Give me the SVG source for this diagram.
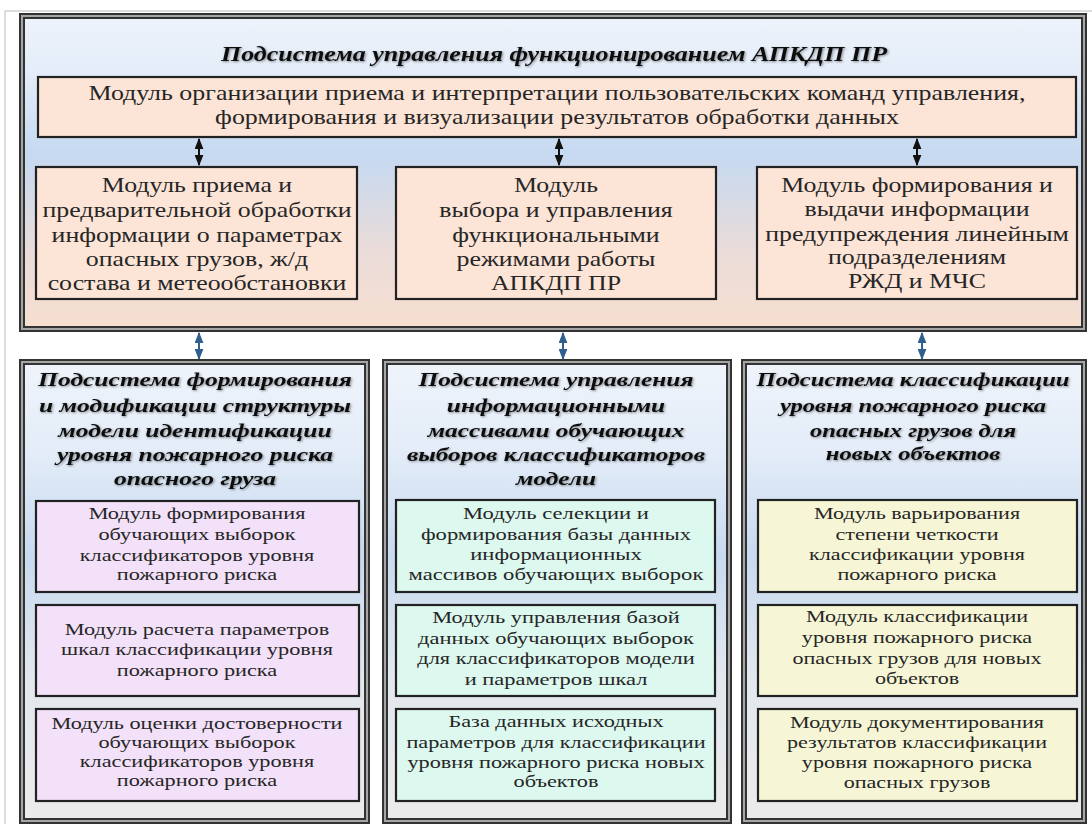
<svg xmlns="http://www.w3.org/2000/svg" width="1092" height="824" viewBox="0 0 1092 824" font-family="Liberation Serif">
  <defs>
    <linearGradient id="gTop" x1="0" y1="0" x2="0" y2="1">
      <stop offset="0" stop-color="#eef3fb"/>
      <stop offset="0.18" stop-color="#e4edf9"/>
      <stop offset="0.44" stop-color="#c5d9f1"/>
      <stop offset="0.75" stop-color="#eadcd9"/>
      <stop offset="1" stop-color="#f7dfd0"/>
    </linearGradient>
    <linearGradient id="gSub" x1="0" y1="0" x2="0" y2="1">
      <stop offset="0" stop-color="#eff4fb"/>
      <stop offset="0.2" stop-color="#e3ecf8"/>
      <stop offset="0.42" stop-color="#c8daf0"/>
      <stop offset="0.7" stop-color="#e3e8ee"/>
      <stop offset="1" stop-color="#ebebeb"/>
    </linearGradient>
    <filter id="soft" x="-5%" y="-20%" width="110%" height="140%">
      <feGaussianBlur in="SourceAlpha" stdDeviation="1.2"/>
      <feOffset dx="1" dy="1" result="sh"/>
      <feComponentTransfer><feFuncA type="linear" slope="0.45"/></feComponentTransfer>
      <feMerge><feMergeNode/><feMergeNode in="SourceGraphic"/></feMerge>
    </filter>
    <marker id="hBlack" viewBox="0 0 10 8" refX="9" refY="4" markerWidth="11" markerHeight="9" markerUnits="userSpaceOnUse" orient="auto-start-reverse">
      <path d="M0,0 L10,4 L0,8 z" fill="#111"/>
    </marker>
    <marker id="hBlue" viewBox="0 0 10 8" refX="9" refY="4" markerWidth="11" markerHeight="9" markerUnits="userSpaceOnUse" orient="auto-start-reverse">
      <path d="M0,0 L10,4 L0,8 z" fill="#2f5f8f"/>
    </marker>
  </defs>
  <style>
    .frame { fill: none; stroke: #d2d2d2; stroke-width: 1.5; }
    .panelOuter { stroke: #333; stroke-width: 6; }
    .panelInner { fill: none; stroke: #a6a6a6; stroke-width: 2; }
    .box { stroke: #222; stroke-width: 2.2; }
    .peach { fill: #fce4d6; }
    .lav { fill: #f3e1f9; }
    .mint { fill: #dcf8ef; }
    .yel { fill: #f6f6d6; }
    text { fill: #262626; text-anchor: middle; }
    .t21 { font-size: 21px; }
    .t17 { font-size: 17px; }
    .ttl { font-size: 20px; font-weight: bold; font-style: italic; fill: #111; }
    .ttl2 { font-size: 18.5px; font-weight: bold; font-style: italic; fill: #111; }
    .aBlack { stroke: #111; stroke-width: 2; marker-start: url(#hBlack); marker-end: url(#hBlack); }
    .aBlue { stroke: #2f5f8f; stroke-width: 2; marker-start: url(#hBlue); marker-end: url(#hBlue); }
  </style>

  <!-- page frame lines -->
  <path class="frame" d="M5,824 L5,11 L1092,11"/>

  <!-- top subsystem panel -->
  <g id="panel-control">
    <rect class="panelOuter" x="22" y="16" width="1062" height="313" fill="url(#gTop)"/>
    <rect class="panelInner" x="22" y="16" width="1062" height="313"/>
    <g transform="translate(554 0) scale(1.3 1)" filter="url(#soft)">
      <text class="ttl" x="0" y="61">Подсистема управления функционированием  АПКДП ПР</text>
    </g>
  </g>

  <g id="mod-ui">
    <rect class="box peach" x="38" y="77" width="1038" height="60"/>
    <g transform="translate(557 0) scale(1.235 1)">
      <text class="t21" x="0" y="100">Модуль организации приема и интерпретации пользовательских команд управления,</text>
      <text class="t21" x="0" y="124">формирования и визуализации результатов обработки данных</text>
    </g>
  </g>

  <g id="mod-input">
    <rect class="box peach" x="36" y="167" width="321" height="132"/>
    <g transform="translate(197 0) scale(1.23 1)">
      <text class="t21" x="0" y="192">Модуль приема и</text>
      <text class="t21" x="0" y="217">предварительной обработки</text>
      <text class="t21" x="0" y="242">информации о параметрах</text>
      <text class="t21" x="0" y="266">опасных грузов, ж/д</text>
      <text class="t21" x="0" y="290">состава и метеообстановки</text>
    </g>
  </g>

  <g id="mod-modes">
    <rect class="box peach" x="396" y="167" width="320" height="132"/>
    <g transform="translate(556 0) scale(1.23 1)">
      <text class="t21" x="0" y="192">Модуль</text>
      <text class="t21" x="0" y="217">выбора и управления</text>
      <text class="t21" x="0" y="242">функциональными</text>
      <text class="t21" x="0" y="266">режимами работы</text>
      <text class="t21" x="0" y="290">АПКДП ПР</text>
    </g>
  </g>

  <g id="mod-warning">
    <rect class="box peach" x="757" y="167" width="320" height="132"/>
    <g transform="translate(917 0) scale(1.23 1)">
      <text class="t21" x="0" y="192">Модуль формирования и</text>
      <text class="t21" x="0" y="216">выдачи информации</text>
      <text class="t21" x="0" y="241">предупреждения линейным</text>
      <text class="t21" x="0" y="264">подразделениям</text>
      <text class="t21" x="0" y="288">РЖД и МЧС</text>
    </g>
  </g>

  <!-- lower subsystem panels -->
  <g id="panel-structure">
    <rect class="panelOuter" x="22" y="362" width="345" height="459" fill="url(#gSub)"/>
    <rect class="panelInner" x="22" y="362" width="345" height="459"/>
    <g transform="translate(195 0) scale(1.38 1)" filter="url(#soft)">
      <text class="ttl2" x="0" y="386">Подсистема формирования</text>
      <text class="ttl2" x="0" y="412">и модификации структуры</text>
      <text class="ttl2" x="0" y="437">модели идентификации</text>
      <text class="ttl2" x="0" y="461">уровня пожарного риска</text>
      <text class="ttl2" x="0" y="485">опасного груза</text>
    </g>
  </g>

  <g id="panel-arrays">
    <rect class="panelOuter" x="385" y="362" width="344" height="459" fill="url(#gSub)"/>
    <rect class="panelInner" x="385" y="362" width="344" height="459"/>
    <g transform="translate(556 0) scale(1.37 1)" filter="url(#soft)">
      <text class="ttl2" x="0" y="386">Подсистема управления</text>
      <text class="ttl2" x="0" y="412">информационными</text>
      <text class="ttl2" x="0" y="437">массивами обучающих</text>
      <text class="ttl2" x="0" y="461">выборов классификаторов</text>
      <text class="ttl2" x="0" y="485">модели</text>
    </g>
  </g>

  <g id="panel-classify">
    <rect class="panelOuter" x="744" y="362" width="340" height="459" fill="url(#gSub)"/>
    <rect class="panelInner" x="744" y="362" width="340" height="459"/>
    <g transform="translate(913 0) scale(1.33 1)" filter="url(#soft)">
      <text class="ttl2" x="0" y="386">Подсистема классификации</text>
      <text class="ttl2" x="0" y="412">уровня пожарного риска</text>
      <text class="ttl2" x="0" y="437">опасных грузов для</text>
      <text class="ttl2" x="0" y="460">новых объектов</text>
    </g>
  </g>

  <!-- left column modules -->
  <g id="mod-samples">
    <rect class="box lav" x="36" y="501" width="323" height="91"/>
    <g transform="translate(197 0) scale(1.31 1)">
      <text class="t17" x="0" y="519">Модуль формирования</text>
      <text class="t17" x="0" y="540">обучающих выборок</text>
      <text class="t17" x="0" y="561">классификаторов уровня</text>
      <text class="t17" x="0" y="580">пожарного риска</text>
    </g>
  </g>
  <g id="mod-scales">
    <rect class="box lav" x="36" y="605" width="323" height="91"/>
    <g transform="translate(197 0) scale(1.31 1)">
      <text class="t17" x="0" y="635">Модуль расчета параметров</text>
      <text class="t17" x="0" y="655">шкал классификации уровня</text>
      <text class="t17" x="0" y="676">пожарного риска</text>
    </g>
  </g>
  <g id="mod-validity">
    <rect class="box lav" x="36" y="709" width="323" height="92"/>
    <g transform="translate(197 0) scale(1.31 1)">
      <text class="t17" x="0" y="729">Модуль оценки достоверности</text>
      <text class="t17" x="0" y="748">обучающих выборок</text>
      <text class="t17" x="0" y="767">классификаторов уровня</text>
      <text class="t17" x="0" y="786">пожарного риска</text>
    </g>
  </g>

  <!-- middle column modules -->
  <g id="mod-selection">
    <rect class="box mint" x="396" y="500" width="319" height="92"/>
    <g transform="translate(556 0) scale(1.33 1)">
      <text class="t17" x="0" y="519">Модуль селекции и</text>
      <text class="t17" x="0" y="540">формирования базы данных</text>
      <text class="t17" x="0" y="560">информационных</text>
      <text class="t17" x="0" y="580">массивов обучающих выборок</text>
    </g>
  </g>
  <g id="mod-dbcontrol">
    <rect class="box mint" x="396" y="605" width="319" height="91"/>
    <g transform="translate(556 0) scale(1.32 1)">
      <text class="t17" x="0" y="623">Модуль управления базой</text>
      <text class="t17" x="0" y="644">данных обучающих выборок</text>
      <text class="t17" x="0" y="664">для классификаторов модели</text>
      <text class="t17" x="0" y="685">и параметров шкал</text>
    </g>
  </g>
  <g id="mod-sourcedb">
    <rect class="box mint" x="396" y="709" width="319" height="92"/>
    <g transform="translate(556 0) scale(1.31 1)">
      <text class="t17" x="0" y="727">База данных исходных</text>
      <text class="t17" x="0" y="748">параметров для классификации</text>
      <text class="t17" x="0" y="768">уровня пожарного риска новых</text>
      <text class="t17" x="0" y="787">объектов</text>
    </g>
  </g>

  <!-- right column modules -->
  <g id="mod-fuzzy">
    <rect class="box yel" x="758" y="500" width="319" height="92"/>
    <g transform="translate(917 0) scale(1.3 1)">
      <text class="t17" x="0" y="519">Модуль варьирования</text>
      <text class="t17" x="0" y="540">степени четкости</text>
      <text class="t17" x="0" y="560">классификации уровня</text>
      <text class="t17" x="0" y="580">пожарного риска</text>
    </g>
  </g>
  <g id="mod-newobj">
    <rect class="box yel" x="758" y="605" width="319" height="91"/>
    <g transform="translate(917 0) scale(1.3 1)">
      <text class="t17" x="0" y="622">Модуль классификации</text>
      <text class="t17" x="0" y="643">уровня пожарного риска</text>
      <text class="t17" x="0" y="664">опасных грузов для новых</text>
      <text class="t17" x="0" y="684">объектов</text>
    </g>
  </g>
  <g id="mod-report">
    <rect class="box yel" x="758" y="709" width="319" height="92"/>
    <g transform="translate(917 0) scale(1.3 1)">
      <text class="t17" x="0" y="728">Модуль документирования</text>
      <text class="t17" x="0" y="748">результатов классификации</text>
      <text class="t17" x="0" y="768">уровня пожарного риска</text>
      <text class="t17" x="0" y="788">опасных грузов</text>
    </g>
  </g>

  <!-- connectors -->
  <g id="connectors">
    <line class="aBlack" x1="199" y1="139" x2="199" y2="165"/>
    <line class="aBlack" x1="559" y1="139" x2="559" y2="165"/>
    <line class="aBlack" x1="917" y1="139" x2="917" y2="165"/>
    <line class="aBlue" x1="199" y1="333" x2="199" y2="359"/>
    <line class="aBlue" x1="563" y1="333" x2="563" y2="359"/>
    <line class="aBlue" x1="922" y1="333" x2="922" y2="359"/>
  </g>
</svg>
